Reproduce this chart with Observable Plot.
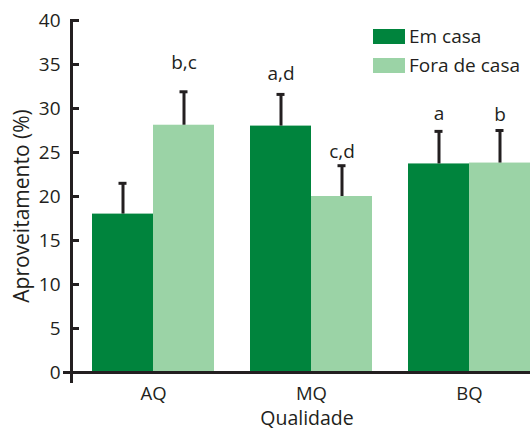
<!DOCTYPE html>
<html>
<head>
<meta charset="utf-8">
<script src="https://cdn.jsdelivr.net/npm/d3@7"></script>
<script src="https://cdn.jsdelivr.net/npm/@observablehq/plot@0.6"></script>
<style>
  body { margin: 0; background: #fff; }
  #wrap { position: relative; width: 530px; height: 430px; font-family: "Open Sans", sans-serif; color: #231f20; }
  .leg { position: absolute; left: 373px; height: 15px; display: flex; align-items: center; font-size: 19px; line-height: 15px; }
  .sw { width: 32px; height: 15px; margin-right: 4px; }
</style>
</head>
<body>
<div id="wrap"></div>
<script>
const qualities = ["AQ", "MQ", "BQ"];
const series = ["Em casa", "Fora de casa"];
const emCasa = [18.0, 28.0, 23.7];
const emCasaUpper = [21.5, 31.6, 27.4];
const foraCasa = [28.1, 20.0, 23.8];
const foraCasaUpper = [31.9, 23.5, 27.5];
const emCasaLabels = ["", "a,d", "a"];
const emCasaLabelY = [0, 33.2, 28.7];
const foraCasaLabels = ["b,c", "c,d", "b"];
const foraCasaLabelY = [34.5, 24.4, 28.6];
const yTicks = [0, 5, 10, 15, 20, 25, 30, 35, 40];
const colors = ["#00843d", "#9bd3a6"];

const em = qualities.map((q, i) => ({q, v: emCasa[i], up: emCasaUpper[i], lab: emCasaLabels[i], ly: emCasaLabelY[i]}));
const fo = qualities.map((q, i) => ({q, v: foraCasa[i], up: foraCasaUpper[i], lab: foraCasaLabels[i], ly: foraCasaLabelY[i]}));
const half = 30.5;
const ink = "#231f20";
const fs = 19;

const chart = Plot.plot({
  width: 530,
  height: 430,
  marginLeft: 71,
  marginRight: 0,
  marginTop: 20,
  marginBottom: 49,
  style: {fontFamily: "'Open Sans', sans-serif", fontSize: fs + "px", color: ink, background: "white"},
  x: {domain: qualities, range: [71, 530], paddingInner: 0.23, paddingOuter: 0.063, align: 1, label: null},
  y: {domain: [0, 40], range: [372, 20], label: null},
  marks: [
    Plot.barY(em, {x: "q", y: "v", fill: colors[0], insetRight: 61}),
    Plot.barY(fo, {x: "q", y: "v", fill: colors[1], insetLeft: 61}),
    Plot.ruleX(em, {x: "q", y1: "v", y2: "up", dx: -half, stroke: ink, strokeWidth: 3}),
    Plot.ruleX(fo, {x: "q", y1: "v", y2: "up", dx: half, stroke: ink, strokeWidth: 3}),
    Plot.tickY(em, {x: "q", y: "up", dx: -half, insetLeft: 57, insetRight: 57, stroke: ink, strokeWidth: 3}),
    Plot.tickY(fo, {x: "q", y: "up", dx: half, insetLeft: 57, insetRight: 57, stroke: ink, strokeWidth: 3}),
    Plot.text(em, {x: "q", y: "ly", text: "lab", dx: -half, lineAnchor: "bottom", fill: ink, fontSize: fs}),
    Plot.text(fo, {x: "q", y: "ly", text: "lab", dx: half, lineAnchor: "bottom", fill: ink, fontSize: fs}),
    Plot.axisY({ticks: yTicks, tickSize: 8, dx: 8, tickPadding: 11, strokeWidth: 3, stroke: ink, fill: ink, fontSize: fs, label: null, tickFormat: d => d}),
    Plot.axisX({tickSize: 0, tickPadding: 5, fill: ink, fontSize: 18.5, label: null}),
    Plot.frame({anchor: "left", stroke: ink, strokeWidth: 3}),
    Plot.ruleY([0], {stroke: ink, strokeWidth: 3, insetLeft: -8}),
    Plot.text(["Aproveitamento (%)"], {frameAnchor: "left", dx: -49, dy: 5, rotate: -90, textAnchor: "middle", fill: ink, fontSize: 21}),
    Plot.text(["Qualidade"], {frameAnchor: "bottom", dx: 6, dy: 37, lineAnchor: "middle", fill: ink, fontSize: 19.5})
  ]
});

const wrap = document.getElementById("wrap");
wrap.appendChild(chart);
const tops = [29, 58];
series.forEach((s, i) => {
  const d = document.createElement("div");
  d.className = "leg";
  d.style.top = tops[i] + "px";
  d.innerHTML = `<div class="sw" style="background:${colors[i]}"></div><span>${s}</span>`;
  wrap.appendChild(d);
});
</script>
</body>
</html>
